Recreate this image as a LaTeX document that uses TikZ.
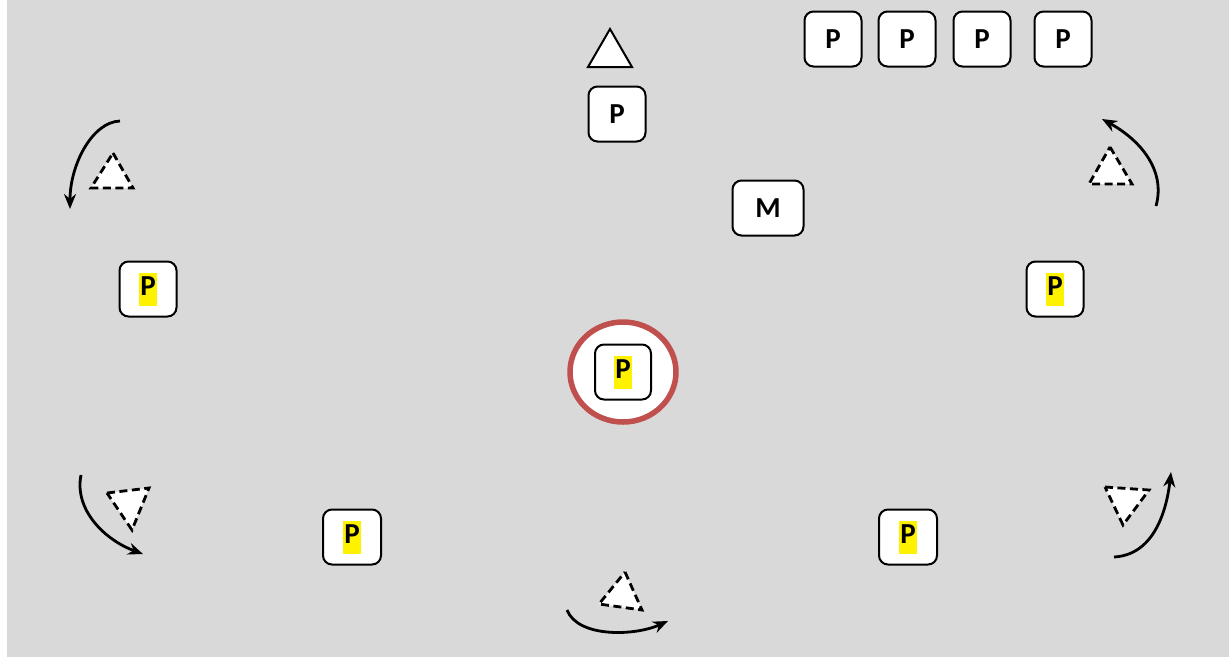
\documentclass[tikz,border=0pt]{standalone}
\usepackage{fontspec}
\setmainfont{Carlito}
\usetikzlibrary{arrows.meta}
\definecolor{bggray}{RGB}{217,217,217}
\definecolor{ringred}{RGB}{192,80,77}
\newcommand{\hlP}{{\setlength{\fboxsep}{0pt}\colorbox{yellow}{\strut\hspace{1pt}P\hspace{1pt}}}}
\begin{document}
\begin{tikzpicture}[x=1pt,y=-1pt,
  pbox/.style={draw=black,line width=2pt,fill=white,rounded corners=9pt,
    minimum width=57pt,minimum height=55pt,inner sep=0pt,
    font=\fontsize{29}{33}\selectfont\bfseries},
  soltri/.style={draw=black,line width=2pt,fill=white},
  dashtri/.style={draw=black,line width=2.8pt,fill=white,dash pattern=on 8pt off 4.5pt},
  turn/.style={draw=black,line width=2.8pt,-{Stealth[length=15pt,width=12pt]}}]
\useasboundingbox (0,0) rectangle (1229,657);
\fill[white] (0,0) rectangle (1229,657);
\fill[bggray] (7,0) rectangle (1229,657);
% top row
\node[pbox] (t1) at (833,39) {P};
\node[pbox] (t2) at (907,39) {P};
\node[pbox] (t3) at (982,39) {P};
\node[pbox] (t4) at (1063,39) {P};
% top triangle and P
\draw[soltri] (610,29) -- (632,67) -- (588,67) -- cycle;
\node[pbox] (top) at (617,114) {P};
\node[pbox,minimum width=71pt] (m) at (768,208) {M};
% ring
\draw[ringred,line width=5.5pt,fill=white] (623,372) ellipse [x radius=53pt,y radius=50pt];
\node[pbox,minimum width=56pt] (c) at (623,372) {\hlP};
% others
\node[pbox] (l) at (148,289) {\hlP};
\node[pbox] (r) at (1055,289) {\hlP};
\node[pbox,minimum width=58pt] (bl) at (352,537) {\hlP};
\node[pbox,minimum width=58pt] (br) at (908,537) {\hlP};
% dashed triangles
\draw[dashtri] (113,153) -- (133,188) -- (91,188) -- cycle;
\draw[dashtri] (107,493) -- (149,488) -- (132,530) -- cycle;
\draw[dashtri] (625,572) -- (642,610) -- (599,604) -- cycle;
\draw[dashtri] (1110,147) -- (1132,184) -- (1089,184) -- cycle;
\draw[dashtri] (1105,487) -- (1149,490) -- (1123,525) -- cycle;
% turning arrows
\coordinate (a1s) at (120,121); \coordinate (a1e) at (70,209);
\coordinate (a2s) at (81,475);  \coordinate (a2e) at (143,554);
\coordinate (a3s) at (567,610); \coordinate (a3e) at (668,621);
\coordinate (a4s) at (1156,206); \coordinate (a4e) at (1102,119);
\coordinate (a5s) at (1114,557); \coordinate (a5e) at (1171,472);
\draw[turn] (a1s) .. controls (92,122) and (70,165) .. (a1e);
\draw[turn] (a2s) .. controls (74,510) and (105,540) .. (a2e);
\draw[turn] (a3s) .. controls (578,638) and (635,636) .. (a3e);
\draw[turn] (a4s) .. controls (1166,170) and (1140,140) .. (a4e);
\draw[turn] (a5s) .. controls (1152,555) and (1166,515) .. (a5e);
\end{tikzpicture}
\end{document}
